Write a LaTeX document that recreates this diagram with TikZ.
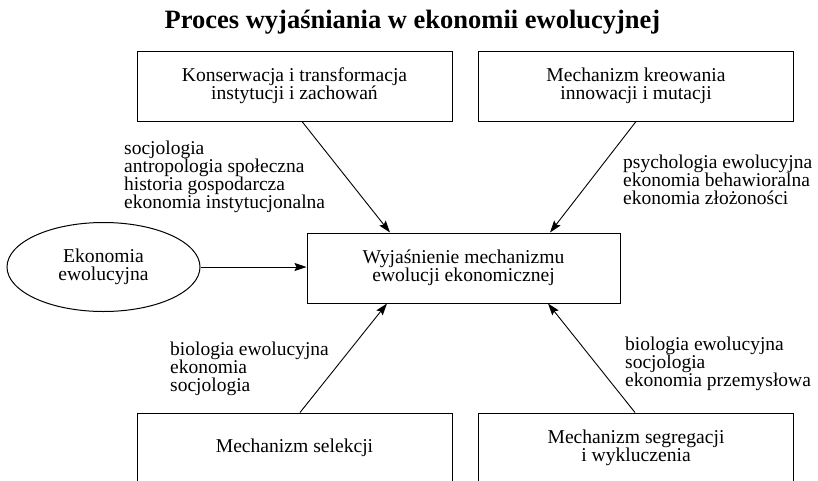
\documentclass[tikz,border=0pt]{standalone}
\usepackage{fontspec}
\setmainfont{Liberation Serif}
\usetikzlibrary{arrows.meta,shapes.geometric}

\begin{document}
\begin{tikzpicture}[x=1pt,y=-1pt,
  box/.style={draw, line width=1pt, minimum width=315pt, minimum height=70pt, inner sep=0pt, align=center, font=\fontsize{19.6}{18}\selectfont},
  lbl/.style={anchor=north west, inner sep=0pt, align=left, font=\fontsize{19.5}{17.9}\selectfont},
  arr/.style={line width=0.9pt, -{Stealth[length=12pt,width=8pt,inset=2pt]}}]
\useasboundingbox (0,0) rectangle (818,480);
\clip (0,0) rectangle (818,480);
\node[anchor=base, font=\fontsize{26.5}{28}\selectfont\bfseries] (tyt) at (412.5,28) {Proces wyjaśniania w ekonomii ewolucyjnej};

\node[box] (kons) at (294.5,86) {Konserwacja i transformacja\\instytucji i zachowań};
\node[box] (mech) at (636,86) {Mechanizm kreowania\\innowacji i mutacji};
\node[box, minimum width=313pt] (wyj) at (463.5,268) {Wyjaśnienie mechanizmu\\ewolucji ekonomicznej};
\node[box] (sel) at (294.5,448) {Mechanizm selekcji};
\node[box] (seg) at (636,448) {Mechanizm segregacji\\i wykluczenia};
\node[draw, ellipse, line width=1pt, minimum width=193pt, minimum height=89pt, inner sep=0pt, align=center, font=\fontsize{19.6}{18}\selectfont] (eko) at (103.5,267) {Ekonomia\\ewolucyjna};

\node[lbl] (n1) at (124,141) {socjologia\\antropologia społeczna\\historia gospodarcza\\ekonomia instytucjonalna};
\node[lbl] (n2) at (623,155) {psychologia ewolucyjna\\ekonomia behawioralna\\ekonomia złożoności};
\node[lbl] (n3) at (170,342) {biologia ewolucyjna\\ekonomia\\socjologia};
\node[lbl] (n4) at (625,337) {biologia ewolucyjna\\socjologia\\ekonomia przemysłowa};

\draw[arr] ([xshift=7.5pt]kons.south) -- ([xshift=-73.5pt]wyj.north);
\draw[arr] (mech.south) -- ([xshift=86.5pt]wyj.north);
\draw[arr] ([xshift=5.5pt]sel.north) -- ([xshift=-76.5pt]wyj.south);
\draw[arr] ([xshift=-1pt]seg.north) -- ([xshift=84.5pt]wyj.south);
\draw[arr] (eko.east) -- (eko.east -| wyj.west);

\end{tikzpicture}
\end{document}
